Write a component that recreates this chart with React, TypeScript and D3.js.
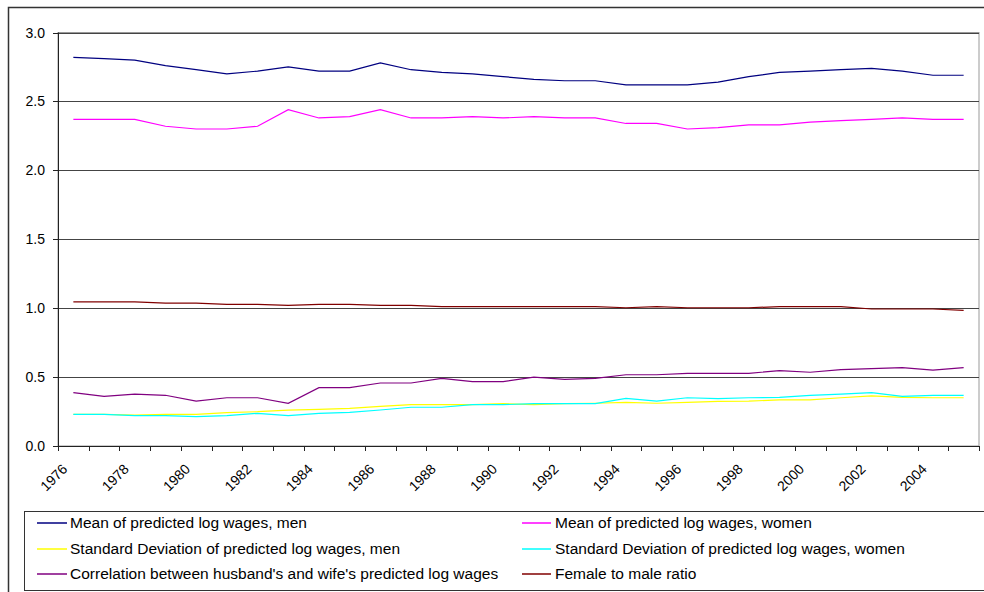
import React from "react";
import * as d3 from "d3";

const years = [1976,1977,1978,1979,1980,1981,1982,1983,1984,1985,1986,1987,1988,1989,1990,1991,1992,1993,1994,1995,1996,1997,1998,1999,2000,2001,2002,2003,2004,2005];

const meanMen = [2.82,2.81,2.80,2.76,2.73,2.70,2.72,2.75,2.72,2.72,2.78,2.73,2.71,2.70,2.68,2.66,2.65,2.65,2.62,2.62,2.62,2.64,2.68,2.71,2.72,2.73,2.74,2.72,2.69,2.69];
const meanWomen = [2.37,2.37,2.37,2.32,2.30,2.30,2.32,2.44,2.38,2.39,2.44,2.38,2.38,2.39,2.38,2.39,2.38,2.38,2.34,2.34,2.30,2.31,2.33,2.33,2.35,2.36,2.37,2.38,2.37,2.37];
const sdMen = [0.23,0.23,0.225,0.23,0.23,0.242,0.249,0.261,0.266,0.273,0.288,0.30,0.30,0.30,0.307,0.30,0.307,0.31,0.317,0.31,0.317,0.324,0.326,0.334,0.334,0.35,0.363,0.353,0.35,0.35];
const sdWomen = [0.23,0.23,0.22,0.22,0.213,0.22,0.237,0.22,0.237,0.244,0.261,0.281,0.281,0.30,0.30,0.307,0.307,0.307,0.346,0.326,0.35,0.343,0.35,0.353,0.368,0.377,0.387,0.36,0.368,0.368];
const correlation = [0.387,0.36,0.377,0.368,0.326,0.35,0.35,0.31,0.423,0.423,0.457,0.457,0.491,0.467,0.467,0.50,0.484,0.491,0.517,0.517,0.527,0.527,0.527,0.547,0.535,0.554,0.561,0.568,0.551,0.568];
const ratio = [1.045,1.045,1.045,1.037,1.037,1.028,1.028,1.02,1.028,1.028,1.02,1.02,1.011,1.011,1.011,1.011,1.011,1.011,1.003,1.011,1.003,1.003,1.003,1.011,1.011,1.011,0.994,0.994,0.994,0.984];

const yTicks = [0, 0.5, 1.0, 1.5, 2.0, 2.5, 3.0];
const xLabelYears = [1976,1978,1980,1982,1984,1986,1988,1990,1992,1994,1996,1998,2000,2002,2004];

const seriesNames = [
  "Mean of predicted log wages, men",
  "Mean of predicted log wages, women",
  "Standard Deviation of predicted log wages, men",
  "Standard Deviation of predicted log wages, women",
  "Correlation between husband's and wife's predicted log wages",
  "Female to male ratio",
];
const seriesValues = [meanMen, meanWomen, sdMen, sdWomen, correlation, ratio];
const seriesColors = ["#000080", "#FF00FF", "#FFFF00", "#00FFFF", "#800080", "#800000"];

const FONT = "Liberation Sans, Arial, sans-serif";

export default function App() {
  const left = 58, right = 979, top = 32.5, bottom = 446;
  const x = d3.scaleBand<number>().domain(years).range([left, right]).padding(0);
  const bw = x.bandwidth();
  const cx = (yr: number) => (x(yr) as number) + bw / 2;
  const y = d3.scaleLinear().domain([0, 3]).range([bottom, top]);
  const line = (vals: number[]) =>
    d3.line<number>().x((_, i) => cx(years[i])).y((v) => y(v))(vals) || "";

  const boundaries = years.map((yr) => x(yr) as number).concat([right]);

  const legendRows = [523, 549, 574];
  const legendCols = [{ l0: 37, l1: 67, t: 70 }, { l0: 522, l1: 551, t: 555 }];

  return (
    <svg width={984} height={592} style={{ position: "absolute", left: 0, top: 0, background: "#fff" }}>
      <rect x={8.5} y={7.5} width={1000} height={600} fill="#fff" stroke="#333" strokeWidth={1.5} />
      {/* plot border */}
      <rect x={left} y={top} width={right - left} height={bottom - top} fill="none" stroke="#999" strokeWidth={1} />
      {/* gridlines */}
      {yTicks.filter((t) => t > 0).map((t) => (
        <line key={t} x1={left} x2={right} y1={Math.round(y(t)) + 0.5} y2={Math.round(y(t)) + 0.5} stroke="#444" strokeWidth={1} />
      ))}
      {/* axes */}
      <line x1={left + 0.5} x2={left + 0.5} y1={top} y2={bottom} stroke="#222" />
      <line x1={left} x2={right} y1={bottom + 0.5} y2={bottom + 0.5} stroke="#222" />
      {yTicks.map((t) => (
        <g key={t}>
          <line x1={left - 5} x2={left} y1={Math.round(y(t)) + 0.5} y2={Math.round(y(t)) + 0.5} stroke="#222" />
          <text x={45} y={y(t) + 5} textAnchor="end" fontFamily={FONT} fontSize={14} fill="#000">
            {t.toFixed(1)}
          </text>
        </g>
      ))}
      {boundaries.map((b, i) => (
        <line key={i} x1={Math.round(b) + 0.5} x2={Math.round(b) + 0.5} y1={bottom} y2={bottom + 5} stroke="#222" />
      ))}
      {xLabelYears.map((yr) => (
        <text
          key={yr}
          transform={`translate(${cx(yr) - 12},${bottom + 17}) rotate(-45)`}
          textAnchor="end"
          dy="0.7em"
          fontFamily={FONT}
          fontSize={14}
          fill="#000"
        >
          {yr}
        </text>
      ))}
      {/* series */}
      {seriesValues.map((vals, i) => (
        <path key={i} d={line(vals)} fill="none" stroke={seriesColors[i]} strokeWidth={1.2} />
      ))}
      {/* legend */}
      <rect x={24.5} y={511.5} width={980} height={79} fill="#fff" stroke="#333" strokeWidth={1} />
      {seriesNames.map((name, i) => {
        const col = legendCols[i % 2];
        const ry = legendRows[Math.floor(i / 2)];
        return (
          <g key={name}>
            <line x1={col.l0} x2={col.l1} y1={ry} y2={ry} stroke={seriesColors[i]} strokeWidth={1.5} />
            <text x={col.t} y={ry + 5} fontFamily={FONT} fontSize={15.5} fill="#000">
              {name}
            </text>
          </g>
        );
      })}
    </svg>
  );
}
